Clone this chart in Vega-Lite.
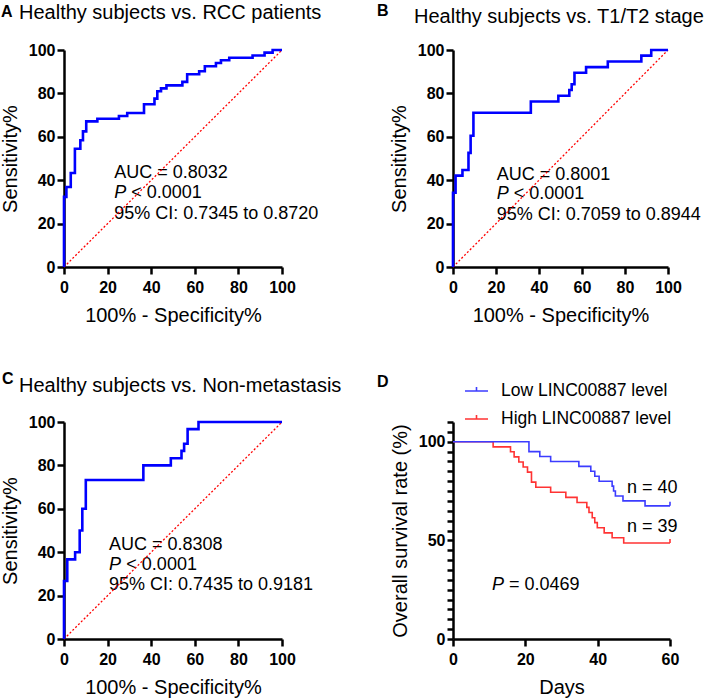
{
  "$schema": "https://vega.github.io/schema/vega-lite/v6.json",
  "background": "white",
  "padding": {"left": 0, "top": 2, "right": 5, "bottom": 5},
  "bounds": "flush",
  "columns": 2,
  "spacing": {"row": 155, "column": 171},
  "resolve": {"legend": {"color": "independent"}},
  "datasets": {
    "rocA": [
      {"fpr": 0, "tpr": 0}, {"fpr": 1.1, "tpr": 32.3}, {"fpr": 3.1, "tpr": 36.9}, {"fpr": 5.0, "tpr": 43.3},
      {"fpr": 7.5, "tpr": 54.5}, {"fpr": 8.7, "tpr": 58.4}, {"fpr": 10.2, "tpr": 62.5}, {"fpr": 15.3, "tpr": 67.1},
      {"fpr": 25.2, "tpr": 68.3}, {"fpr": 29.0, "tpr": 69.6}, {"fpr": 36.7, "tpr": 71.0}, {"fpr": 41.5, "tpr": 75.0},
      {"fpr": 42.8, "tpr": 77.6}, {"fpr": 44.5, "tpr": 81.0}, {"fpr": 47.0, "tpr": 82.3}, {"fpr": 54.3, "tpr": 83.7},
      {"fpr": 56.5, "tpr": 85.3}, {"fpr": 62.0, "tpr": 88.8}, {"fpr": 64.6, "tpr": 90.2}, {"fpr": 69.7, "tpr": 92.5},
      {"fpr": 72.0, "tpr": 94.0}, {"fpr": 75.8, "tpr": 95.3}, {"fpr": 86.5, "tpr": 96.4}, {"fpr": 92.0, "tpr": 97.5},
      {"fpr": 95.7, "tpr": 98.8}, {"fpr": 100, "tpr": 100}
    ],
    "rocB": [
      {"fpr": 0, "tpr": 0}, {"fpr": 1.2, "tpr": 34.2}, {"fpr": 4.4, "tpr": 42.1}, {"fpr": 7.2, "tpr": 44.7},
      {"fpr": 8.2, "tpr": 52.6}, {"fpr": 9.5, "tpr": 60.5}, {"fpr": 36.2, "tpr": 71.1}, {"fpr": 49.0, "tpr": 76.3},
      {"fpr": 54.1, "tpr": 78.9}, {"fpr": 55.2, "tpr": 81.6}, {"fpr": 56.5, "tpr": 84.2}, {"fpr": 61.9, "tpr": 89.5},
      {"fpr": 72.0, "tpr": 92.1}, {"fpr": 87.6, "tpr": 94.7}, {"fpr": 92.2, "tpr": 97.4}, {"fpr": 100, "tpr": 100}
    ],
    "rocC": [
      {"fpr": 0, "tpr": 0}, {"fpr": 1.5, "tpr": 26.7}, {"fpr": 5.1, "tpr": 36.7}, {"fpr": 7.2, "tpr": 40.0},
      {"fpr": 8.4, "tpr": 50.0}, {"fpr": 10.0, "tpr": 60.0}, {"fpr": 36.4, "tpr": 73.3}, {"fpr": 49.0, "tpr": 80.0},
      {"fpr": 53.9, "tpr": 83.3}, {"fpr": 55.1, "tpr": 86.7}, {"fpr": 56.7, "tpr": 90.0}, {"fpr": 61.7, "tpr": 96.7},
      {"fpr": 100, "tpr": 100}
    ],
    "km": [
      {"group": "High LINC00887 level", "day": 0, "surv": 100},
      {"group": "High LINC00887 level", "day": 11.1, "surv": 97.4},
      {"group": "High LINC00887 level", "day": 15.9, "surv": 94.9},
      {"group": "High LINC00887 level", "day": 16.9, "surv": 92.3},
      {"group": "High LINC00887 level", "day": 18.2, "surv": 89.7},
      {"group": "High LINC00887 level", "day": 19.4, "surv": 87.2},
      {"group": "High LINC00887 level", "day": 20.6, "surv": 84.6},
      {"group": "High LINC00887 level", "day": 21.7, "surv": 79.5},
      {"group": "High LINC00887 level", "day": 22.9, "surv": 76.9},
      {"group": "High LINC00887 level", "day": 27.0, "surv": 74.4},
      {"group": "High LINC00887 level", "day": 31.2, "surv": 71.8},
      {"group": "High LINC00887 level", "day": 34.3, "surv": 69.2},
      {"group": "High LINC00887 level", "day": 37.0, "surv": 66.7},
      {"group": "High LINC00887 level", "day": 37.6, "surv": 64.1},
      {"group": "High LINC00887 level", "day": 38.5, "surv": 61.5},
      {"group": "High LINC00887 level", "day": 39.2, "surv": 59.0},
      {"group": "High LINC00887 level", "day": 39.9, "surv": 56.4},
      {"group": "High LINC00887 level", "day": 41.8, "surv": 53.8},
      {"group": "High LINC00887 level", "day": 44.0, "surv": 51.3},
      {"group": "High LINC00887 level", "day": 47.2, "surv": 48.7},
      {"group": "High LINC00887 level", "day": 60, "surv": 48.7},
      {"group": "Low LINC00887 level", "day": 0, "surv": 100},
      {"group": "Low LINC00887 level", "day": 21.0, "surv": 95.0},
      {"group": "Low LINC00887 level", "day": 24.0, "surv": 92.5},
      {"group": "Low LINC00887 level", "day": 27.0, "surv": 90.0},
      {"group": "Low LINC00887 level", "day": 34.8, "surv": 87.5},
      {"group": "Low LINC00887 level", "day": 38.1, "surv": 85.0},
      {"group": "Low LINC00887 level", "day": 39.2, "surv": 82.5},
      {"group": "Low LINC00887 level", "day": 40.4, "surv": 80.0},
      {"group": "Low LINC00887 level", "day": 44.0, "surv": 77.5},
      {"group": "Low LINC00887 level", "day": 44.4, "surv": 75.0},
      {"group": "Low LINC00887 level", "day": 44.9, "surv": 72.5},
      {"group": "Low LINC00887 level", "day": 47.0, "surv": 70.0},
      {"group": "Low LINC00887 level", "day": 53.1, "surv": 67.5},
      {"group": "Low LINC00887 level", "day": 60, "surv": 67.5}
    ],
    "censor": [
      {"group": "High LINC00887 level", "day": 60, "surv": 48.7},
      {"group": "Low LINC00887 level", "day": 60, "surv": 67.5}
    ]
  },
  "concat": [
    {
      "width": 218, "height": 217,
      "title": {"text": "Healthy subjects vs. RCC patients", "dx": -45, "dy": 56, "offset": 21, "baseline": "alphabetic"},
      "layer": [
        {"data": {"values": [{}]}, "mark": {"type": "text", "align": "left", "baseline": "alphabetic"}, "encoding": {"x": {"datum": 23}, "y": {"datum": 41.0}, "text": {"value": "AUC = 0.8032"}}},
        {"data": {"values": [{}]}, "mark": {"type": "text", "align": "left", "baseline": "alphabetic", "fontStyle": "italic"}, "encoding": {"x": {"datum": 23}, "y": {"datum": 31.6}, "text": {"value": "P"}}},
        {"data": {"values": [{}]}, "mark": {"type": "text", "align": "left", "baseline": "alphabetic"}, "encoding": {"x": {"datum": 30.8}, "y": {"datum": 31.6}, "text": {"value": "< 0.0001"}}},
        {"data": {"values": [{}]}, "mark": {"type": "text", "align": "left", "baseline": "alphabetic"}, "encoding": {"x": {"datum": 23}, "y": {"datum": 22.1}, "text": {"value": "95% CI: 0.7345 to 0.8720"}}},
        {"data": {"values": [{}]}, "mark": {"type": "text", "align": "left", "baseline": "alphabetic", "fontWeight": "bold", "fontSize": 16}, "encoding": {"x": {"datum": -28.9}, "y": {"datum": 115.4}, "text": {"value": "A"}}},
        {"data": {"values": [{}]}, "mark": {"type": "rule", "color": "#ff0000", "strokeDash": [2, 2], "strokeWidth": 1.3}, "encoding": {"x": {"datum": 0}, "y": {"datum": 0}, "x2": {"datum": 100}, "y2": {"datum": 100}}},
        {
          "data": {"name": "rocA"},
          "mark": {"type": "line", "color": "#0000ff", "strokeWidth": 2.6, "interpolate": "step-before"},
          "encoding": {
            "x": {"field": "fpr", "type": "quantitative", "scale": {"domain": [0, 100]}, "axis": {"values": [0, 20, 40, 60, 80, 100], "tickCount": 20, "title": "100% - Specificity%", "labelPadding": 5, "titlePadding": 10}},
            "y": {"field": "tpr", "type": "quantitative", "scale": {"domain": [0, 100]}, "axis": {"values": [0, 20, 40, 60, 80, 100], "tickCount": 20, "title": "Sensitivity%", "titlePadding": 8}}
          }
        }
      ]
    },
    {
      "width": 215, "height": 217,
      "title": {"text": "Healthy subjects vs. T1/T2 stage", "dx": -39, "dy": 61, "offset": 21, "baseline": "alphabetic"},
      "layer": [
        {"data": {"values": [{}]}, "mark": {"type": "text", "align": "left", "baseline": "alphabetic"}, "encoding": {"x": {"datum": 20.3}, "y": {"datum": 40.2}, "text": {"value": "AUC = 0.8001"}}},
        {"data": {"values": [{}]}, "mark": {"type": "text", "align": "left", "baseline": "alphabetic", "fontStyle": "italic"}, "encoding": {"x": {"datum": 20.3}, "y": {"datum": 31.2}, "text": {"value": "P"}}},
        {"data": {"values": [{}]}, "mark": {"type": "text", "align": "left", "baseline": "alphabetic"}, "encoding": {"x": {"datum": 28.2}, "y": {"datum": 31.2}, "text": {"value": "< 0.0001"}}},
        {"data": {"values": [{}]}, "mark": {"type": "text", "align": "left", "baseline": "alphabetic"}, "encoding": {"x": {"datum": 20.3}, "y": {"datum": 21.5}, "text": {"value": "95% CI: 0.7059 to 0.8944"}}},
        {"data": {"values": [{}]}, "mark": {"type": "text", "align": "left", "baseline": "alphabetic", "fontWeight": "bold", "fontSize": 16}, "encoding": {"x": {"datum": -35.3}, "y": {"datum": 115.7}, "text": {"value": "B"}}},
        {"data": {"values": [{}]}, "mark": {"type": "rule", "color": "#ff0000", "strokeDash": [2, 2], "strokeWidth": 1.3}, "encoding": {"x": {"datum": 0}, "y": {"datum": 0}, "x2": {"datum": 100}, "y2": {"datum": 100}}},
        {
          "data": {"name": "rocB"},
          "mark": {"type": "line", "color": "#0000ff", "strokeWidth": 2.6, "interpolate": "step-before"},
          "encoding": {
            "x": {"field": "fpr", "type": "quantitative", "scale": {"domain": [0, 100]}, "axis": {"values": [0, 20, 40, 60, 80, 100], "tickCount": 20, "title": "100% - Specificity%", "labelPadding": 5, "titlePadding": 10}},
            "y": {"field": "tpr", "type": "quantitative", "scale": {"domain": [0, 100]}, "axis": {"values": [0, 20, 40, 60, 80, 100], "tickCount": 20, "title": "Sensitivity%", "titlePadding": 8}}
          }
        }
      ]
    },
    {
      "width": 218, "height": 217,
      "title": {"text": "Healthy subjects vs. Non-metastasis", "dx": -45, "dy": 62, "offset": 21, "baseline": "alphabetic"},
      "layer": [
        {"data": {"values": [{}]}, "mark": {"type": "text", "align": "left", "baseline": "alphabetic"}, "encoding": {"x": {"datum": 20.6}, "y": {"datum": 41.2}, "text": {"value": "AUC = 0.8308"}}},
        {"data": {"values": [{}]}, "mark": {"type": "text", "align": "left", "baseline": "alphabetic", "fontStyle": "italic"}, "encoding": {"x": {"datum": 20.6}, "y": {"datum": 31.9}, "text": {"value": "P"}}},
        {"data": {"values": [{}]}, "mark": {"type": "text", "align": "left", "baseline": "alphabetic"}, "encoding": {"x": {"datum": 28.6}, "y": {"datum": 31.9}, "text": {"value": "< 0.0001"}}},
        {"data": {"values": [{}]}, "mark": {"type": "text", "align": "left", "baseline": "alphabetic"}, "encoding": {"x": {"datum": 20.6}, "y": {"datum": 22.4}, "text": {"value": "95% CI: 0.7435 to 0.9181"}}},
        {"data": {"values": [{}]}, "mark": {"type": "text", "align": "left", "baseline": "alphabetic", "fontWeight": "bold", "fontSize": 16}, "encoding": {"x": {"datum": -28.4}, "y": {"datum": 117.5}, "text": {"value": "C"}}},
        {"data": {"values": [{}]}, "mark": {"type": "rule", "color": "#ff0000", "strokeDash": [2, 2], "strokeWidth": 1.3}, "encoding": {"x": {"datum": 0}, "y": {"datum": 0}, "x2": {"datum": 100}, "y2": {"datum": 100}}},
        {
          "data": {"name": "rocC"},
          "mark": {"type": "line", "color": "#0000ff", "strokeWidth": 2.6, "interpolate": "step-before"},
          "encoding": {
            "x": {"field": "fpr", "type": "quantitative", "scale": {"domain": [0, 100]}, "axis": {"values": [0, 20, 40, 60, 80, 100], "tickCount": 20, "title": "100% - Specificity%", "labelPadding": 5, "titlePadding": 10}},
            "y": {"field": "tpr", "type": "quantitative", "scale": {"domain": [0, 100]}, "axis": {"values": [0, 20, 40, 60, 80, 100], "tickCount": 20, "title": "Sensitivity%", "titlePadding": 8}}
          }
        }
      ]
    },
    {
      "width": 217, "height": 217,
      "layer": [
        {
          "data": {"name": "km"},
          "mark": {"type": "line", "strokeWidth": 1.6, "interpolate": "step-after"},
          "encoding": {
            "x": {"field": "day", "type": "quantitative", "scale": {"domain": [0, 60]}, "axis": {"values": [0, 20, 40, 60], "tickCount": 20, "title": "Days", "labelPadding": 5, "titlePadding": 10}},
            "y": {"field": "surv", "type": "quantitative", "scale": {"domain": [0, 110]}, "axis": {"values": [0, 5, 10, 15, 20, 25, 30, 35, 40, 45, 50, 55, 60, 65, 70, 75, 80, 85, 90, 95, 100, 105, 110], "tickCount": 50, "labelExpr": "datum.value % 50 === 0 ? datum.label : ''", "title": "Overall survival rate (%)", "titlePadding": 8, "tickSize": 6}},
            "color": {
              "field": "group", "type": "nominal",
              "scale": {"domain": ["Low LINC00887 level", "High LINC00887 level"], "range": ["#3c3cff", "#ff3333"]},
              "legend": {
                "orient": "none", "legendX": 11, "legendY": -43.5, "title": null, "padding": 0,
                "symbolType": "M-1,0L1,0M0,0L0,-0.35", "symbolSize": 529, "symbolStrokeWidth": 1.6,
                "labelFont": "Liberation Sans", "labelFontSize": 17.5, "labelColor": "black", "labelOffset": 12,
                "labelLimit": 300, "rowPadding": 7
              }
            }
          }
        },
        {
          "data": {"name": "censor"},
          "mark": {"type": "point", "shape": "M0,0L0,-1", "size": 64, "filled": false, "strokeWidth": 1.6, "opacity": 1},
          "encoding": {
            "x": {"field": "day", "type": "quantitative"},
            "y": {"field": "surv", "type": "quantitative"},
            "color": {"field": "group", "type": "nominal", "legend": null}
          }
        },
        {"data": {"values": [{}]}, "mark": {"type": "text", "align": "left", "baseline": "alphabetic", "fontStyle": "italic"}, "encoding": {"x": {"datum": 10.8}, "y": {"datum": 24.8}, "text": {"value": "P"}}},
        {"data": {"values": [{}]}, "mark": {"type": "text", "align": "left", "baseline": "alphabetic"}, "encoding": {"x": {"datum": 15.5}, "y": {"datum": 24.8}, "text": {"value": "= 0.0469"}}},
        {"data": {"values": [{}]}, "mark": {"type": "text", "align": "left", "baseline": "alphabetic"}, "encoding": {"x": {"datum": 48.1}, "y": {"datum": 74.2}, "text": {"value": "n = 40"}}},
        {"data": {"values": [{}]}, "mark": {"type": "text", "align": "left", "baseline": "alphabetic"}, "encoding": {"x": {"datum": 48.1}, "y": {"datum": 54.2}, "text": {"value": "n = 39"}}},
        {"data": {"values": [{}]}, "mark": {"type": "text", "align": "left", "baseline": "alphabetic", "fontWeight": "bold", "fontSize": 16}, "encoding": {"x": {"datum": -21.0}, "y": {"datum": 127.7}, "text": {"value": "D"}}}
      ]
    }
  ],
  "config": {
    "view": {"stroke": null},
    "font": "Liberation Sans",
    "axis": {
      "grid": false, "domainColor": "black", "domainWidth": 2.5, "tickColor": "black", "tickWidth": 2.5, "tickSize": 7,
      "labelFont": "Liberation Sans", "labelFontSize": 16, "labelFontWeight": "bold", "labelColor": "black", "labelPadding": 2,
      "labelFlush": false, "labelOverlap": false,
      "titleFont": "Liberation Sans", "titleFontSize": 20, "titleFontWeight": "normal", "titleColor": "black"
    },
    "title": {"font": "Liberation Sans", "fontSize": 20, "fontWeight": "normal", "color": "black", "anchor": "start", "frame": "group"},
    "text": {"font": "Liberation Sans", "fontSize": 18, "color": "black"}
  }
}
